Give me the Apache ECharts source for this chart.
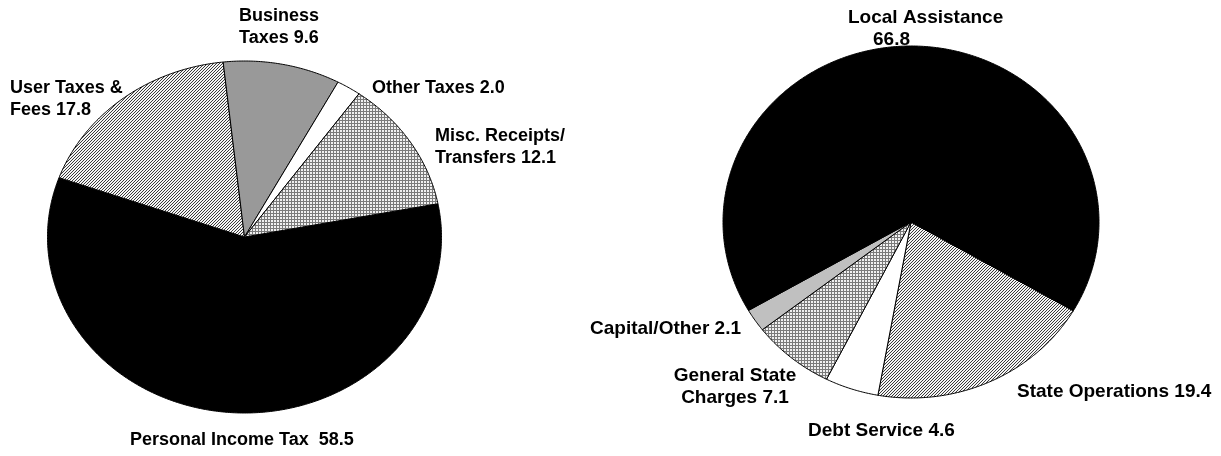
<!DOCTYPE html>
<html><head><meta charset="utf-8">
<script src="https://cdn.jsdelivr.net/npm/echarts@6/dist/echarts.min.js"></script>
<style>html,body{margin:0;padding:0;background:#fff}#c{width:1221px;height:456px}</style>
</head><body><div id="c"></div>
<script>
// ---- data ----
const revenueNames = ['Personal Income Tax ', 'User Taxes &\nFees', 'Business\nTaxes', 'Other Taxes', 'Misc. Receipts/\nTransfers'];
const revenueValues = [58.5, 17.8, 9.6, 2.0, 12.1];
const spendNames = ['State Operations', 'Debt Service', 'General State\nCharges', 'Capital/Other', 'Local Assistance\n'];
const spendValues = [19.4, 4.6, 7.1, 2.1, 66.8];

// ---- patterns ----
function hatch() {
  const c = document.createElement('canvas'); c.width = 3; c.height = 3;
  const g = c.getContext('2d'); g.fillStyle = '#f4f4f4'; g.fillRect(0, 0, 3, 3);
  g.fillStyle = '#3a3a3a';
  for (let x = 0; x < 3; x++) for (let y = 0; y < 3; y++) if ((x + y) % 3 === 0) g.fillRect(x, y, 1, 1);
  return { image: c, repeat: 'repeat' };
}
function cross() {
  const c = document.createElement('canvas'); c.width = 3; c.height = 3;
  const g = c.getContext('2d'); g.fillStyle = '#f0f0f0'; g.fillRect(0, 0, 3, 3);
  g.fillStyle = '#7a7a7a'; g.fillRect(0, 0, 3, 1); g.fillRect(0, 0, 1, 3);
  return { image: c, repeat: 'repeat' };
}
const HATCH = hatch(), CROSS = cross();
const FAMILY = '"Liberation Sans", Arial, sans-serif';

function makeSeries(cfg) {
  const total = cfg.values.reduce((a, b) => a + b, 0);
  let cum = 0;
  const data = cfg.values.map(v => { const d = [cum / total, (cum + v) / total, v]; cum += v; return d; });
  return {
    type: 'custom', coordinateSystem: 'none', data: data, animation: false, silent: true,
    renderItem: function (params, api) {
      const i = params.dataIndex;
      const a0 = cfg.start + api.value(0) * 360, a1 = cfg.start + api.value(1) * 360;
      const pts = [[cfg.cx, cfg.cy]];
      const n = Math.max(2, Math.ceil((a1 - a0) / 0.5));
      for (let k = 0; k <= n; k++) {
        const a = (a0 + (a1 - a0) * k / n) * Math.PI / 180;
        pts.push([cfg.cx + cfg.rx * Math.cos(a), cfg.cy + cfg.ry * Math.sin(a)]);
      }
      const children = [{ type: 'polygon', shape: { points: pts }, style: { fill: cfg.fills[i], stroke: '#000', lineWidth: 1 } }];
      const L = cfg.labels[i];
      const full = cfg.names[i] + (cfg.names[i].endsWith('\n') ? '' : ' ') + api.value(2).toFixed(1);
      const lines = full.split('\n');
      lines.forEach((t, j) => {
        const lx = Array.isArray(L.x) ? L.x[j] : L.x;
        children.push({ type: 'text', z2: 10, style: { text: t, x: lx, y: L.y + j * 22, fill: '#000', font: 'bold ' + (L.size || cfg.size) + 'px ' + FAMILY, align: L.align || 'left', verticalAlign: 'middle' } });
      });
      return { type: 'group', children: children };
    }
  };
}

const chart = echarts.init(document.getElementById('c'), null, { renderer: 'canvas' });
chart.setOption({
  backgroundColor: '#fff',
  animation: false,
  series: [
    makeSeries({
      names: revenueNames, values: revenueValues, size: 18,
      cx: 244.5, cy: 237, rx: 197, ry: 176, start: -10.9,
      fills: ['#000', HATCH, '#999999', '#fff', CROSS],
      labels: [
        { x: 130, y: 440 }, { x: 10, y: 88 }, { x: 239, y: 16 }, { x: 372, y: 88 }, { x: 435, y: 136 }
      ]
    }),
    makeSeries({
      names: spendNames, values: spendValues, size: 19,
      cx: 911, cy: 222, rx: 188, ry: 176, start: 30.3,
      fills: [HATCH, '#fff', CROSS, '#c0c0c0', '#000'],
      labels: [
        { x: 1017, y: 392 }, { x: 808, y: 431 }, { x: 735, y: 376, align: 'center' }, { x: 741, y: 329, align: 'right' }, { x: [848, 873], y: 18 }
      ]
    })
  ]
});
</script>
</body></html>
